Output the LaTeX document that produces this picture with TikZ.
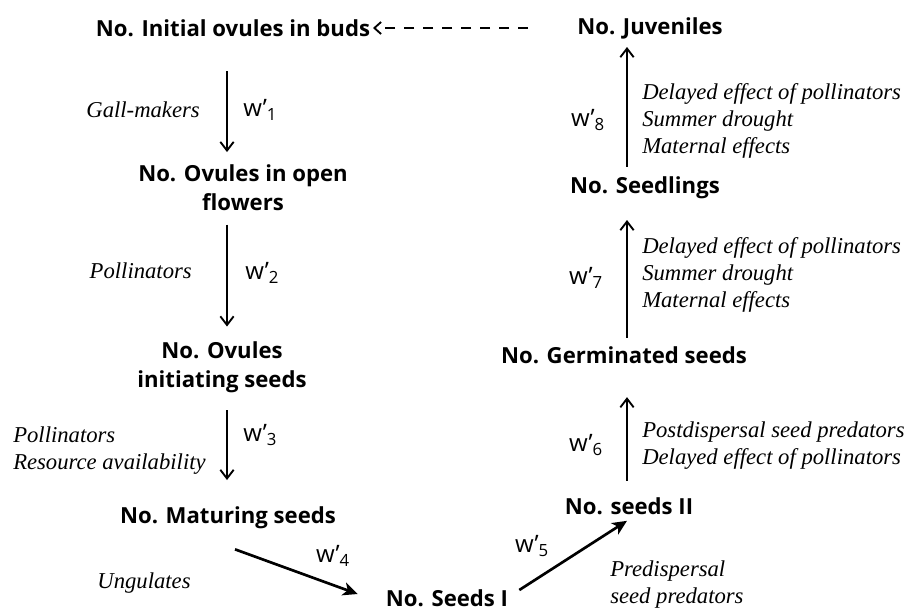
\documentclass[tikz,border=0pt]{standalone}
\usepackage{fontspec}
\setmainfont{Liberation Serif}
\newfontfamily\boldsans{Open Sans}
\usetikzlibrary{arrows.meta}
\begin{document}
\begin{tikzpicture}[x=0.75pt,y=-0.75pt,
  lab/.style={font=\boldsans\bfseries\fontsize{16.6}{21.75}\selectfont, inner sep=0pt, align=center},
  eff/.style={font=\itshape\fontsize{17}{20.25}\selectfont, inner sep=0pt, align=left},
  wl/.style={font=\boldsans\fontsize{18}{18}\selectfont, inner sep=0pt},
  varr/.style={line width=1.5pt, -{Straight Barb[length=6.5pt,width=10pt,line width=1.4pt]}},
  darr/.style={line width=2pt, -{Stealth[length=11pt,width=10pt,inset=3pt]}},
  dsh/.style={line width=1.8pt, dash pattern=on 7.5pt off 6.75pt, -{Straight Barb[length=5pt,width=9pt,line width=1.4pt]}}
]
\useasboundingbox (0,0) rectangle (911,611);

% main nodes
\node[lab] (buds)    at (233,28)  {No. Initial ovules in buds};
\node[lab] (juv)     at (650,28)  {No. Juveniles};
\node[lab] (open)    at (243,188) {No. Ovules in open\\flowers};
\node[lab] (init)    at (222,367) {No. Ovules\\initiating seeds};
\node[lab] (mat)     at (228,518) {No. Maturing seeds};
\node[lab] (seedsI)  at (447,598) {No. Seeds I};
\node[lab] (seedsII) at (629,506) {No. seeds II};
\node[lab] (germ)    at (624,355) {No. Germinated seeds};
\node[lab] (seedl)   at (645,188) {No. Seedlings};

% connectors
\coordinate (dashstart) at (528,28);
\draw[dsh, shorten >=2pt] (dashstart) -- (buds.east);
\draw[varr, shorten <=26pt, shorten >=9.5pt] (227,0 |- buds.south) -- (227,0 |- open.north);
\draw[varr, shorten <=10pt, shorten >=11pt] (227,0 |- open.south) -- (227,0 |- init.north);
\draw[varr, shorten <=13pt, shorten >=20pt] (227,0 |- init.south) -- (227,0 |- mat.north);
\draw[darr] ([shift={(7,20)}]mat.south) -- ([shift={(-28,-4)}]seedsI.west);
\draw[darr] ([shift={(11,-8)}]seedsI.east) -- ([shift={(-2,6)}]seedsII.south);
\draw[varr, shorten <=12.5pt, shorten >=25pt] (627,0 |- seedsII.north) -- (627,0 |- germ.south);
\draw[varr, shorten <=6.5pt, shorten >=15.5pt] (627,0 |- germ.north) -- (627,0 |- seedl.south);
\draw[varr, shorten <=7.5pt, shorten >=6pt] (627,0 |- seedl.north) -- (627,0 |- juv.south);

% factor labels
\node[eff, anchor=east] (f1) at (200,110) {Gall-makers};
\node[wl, anchor=west]  (w1) at (243,110) {w’\textsubscript{1}};
\node[eff, anchor=east] (f2) at (192,271) {Pollinators};
\node[wl, anchor=west]  (w2) at (245,273) {w’\textsubscript{2}};
\node[eff, anchor=west] (f3) at (13,451) {Pollinators\\Resource availability};
\node[wl, anchor=west]  (w3) at (243,435) {w’\textsubscript{3}};
\node[wl]               (w4) at (333,556) {w’\textsubscript{4}};
\node[eff]              (f4) at (144,583) {Ungulates};
\node[wl]               (w5) at (532,546) {w’\textsubscript{5}};
\node[eff, anchor=west] (f5) at (610,585) {Predispersal\\seed predators};
\node[wl]               (w6) at (586,445) {w’\textsubscript{6}};
\node[eff, anchor=west] (f6) at (642,446) {Postdispersal seed predators\\Delayed effect of pollinators};
\node[wl]               (w7) at (586,278) {w’\textsubscript{7}};
\node[eff, anchor=west] (f7) at (642,275) {Delayed effect of pollinators\\Summer drought\\Maternal effects};
\node[wl]               (w8) at (588,120) {w’\textsubscript{8}};
\node[eff, anchor=west] (f8) at (642,121) {Delayed effect of pollinators\\Summer drought\\Maternal effects};
\end{tikzpicture}
\end{document}
